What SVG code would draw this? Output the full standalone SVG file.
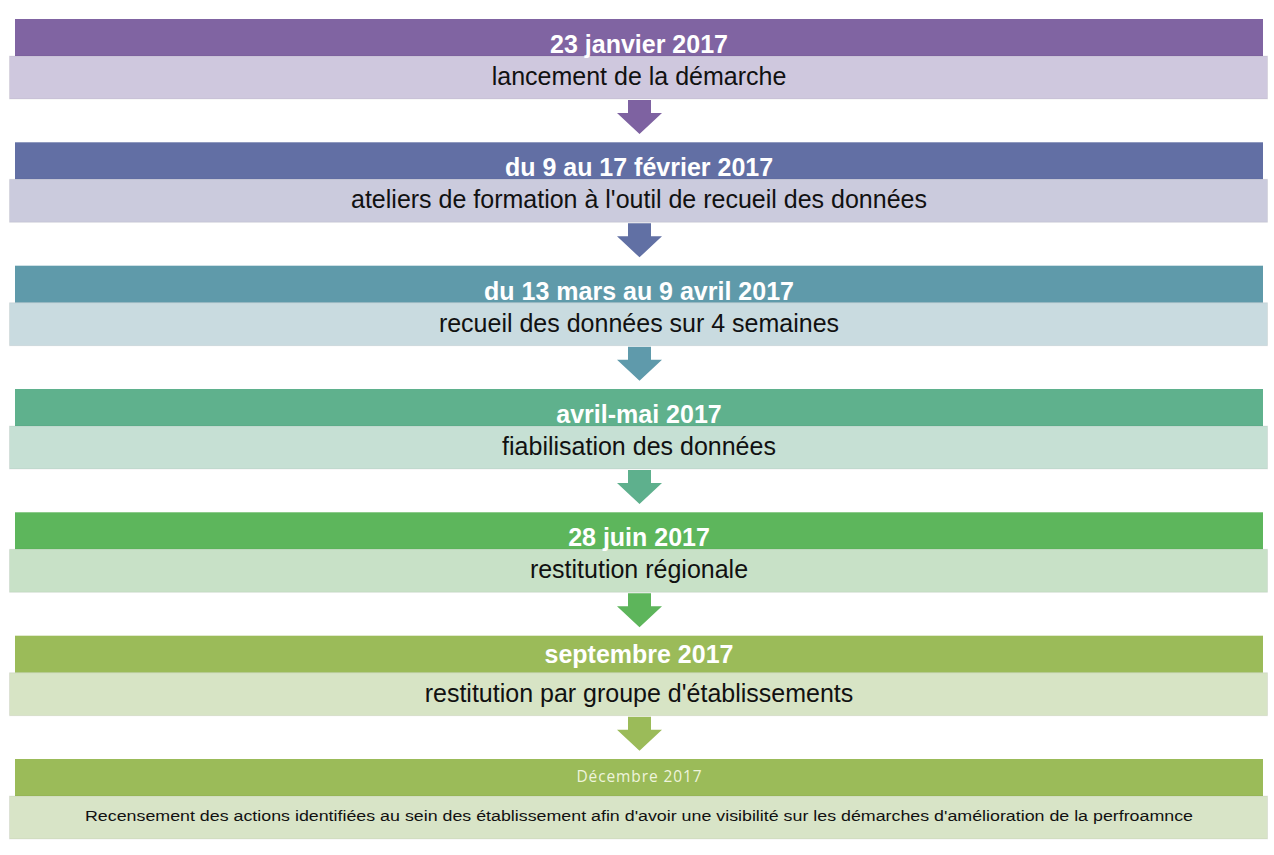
<svg xmlns="http://www.w3.org/2000/svg" width="1274" height="855" viewBox="0 0 1274 855">
<defs>
<style>
.hd{font-family:"Liberation Sans",Arial,sans-serif;font-size:25px;font-weight:bold;fill:#ffffff;text-anchor:middle}
.tx{font-family:"Liberation Sans",Arial,sans-serif;font-size:25px;fill:#111111;text-anchor:middle}
.hds{font-family:"Open Sans","Liberation Sans",sans-serif;font-size:15.5px;fill:#eef4dc;text-anchor:middle}
.txs{font-family:"Liberation Sans",Arial,sans-serif;font-size:15.5px;fill:#111111;text-anchor:middle}
.lt{stroke:#000000;stroke-opacity:0.06;stroke-width:1}
</style>
<path id="arr" d="M-11.5,0 H11.5 V13 H22.5 L0,34 L-22.5,13 H-11.5 Z"/>
</defs>
<rect width="1274" height="855" fill="#ffffff"/>

<g id="connectors">
<use href="#arr" x="639.5" y="100" fill="#7e62a1"/>
<use href="#arr" x="639.5" y="223.3" fill="#6170a4"/>
<use href="#arr" x="639.5" y="346.7" fill="#5f9aab"/>
<use href="#arr" x="639.5" y="470" fill="#5eb08d"/>
<use href="#arr" x="639.5" y="593.3" fill="#5db55b"/>
<use href="#arr" x="639.5" y="716.7" fill="#9bbb59"/>
</g>

<g id="step1">
<rect x="15" y="19" width="1248" height="37" fill="#8064a2"/>
<rect class="lt" x="9.5" y="56" width="1258" height="43" fill="#cfc8de"/>
<text class="hd" x="639" y="53">23 janvier 2017</text>
<text class="tx" x="639" y="85">lancement de la démarche</text>
</g>

<g id="step2">
<rect x="15" y="142.3" width="1248" height="37" fill="#626fa4"/>
<rect class="lt" x="9.5" y="179.3" width="1258" height="43" fill="#cbcbdd"/>
<text class="hd" x="639" y="176.3">du 9 au 17 février 2017</text>
<text class="tx" x="639" y="208.3">ateliers de formation à l'outil de recueil des données</text>
</g>

<g id="step3">
<rect x="15" y="265.7" width="1248" height="37" fill="#5f9aaa"/>
<rect class="lt" x="9.5" y="302.7" width="1258" height="43" fill="#c9dbe0"/>
<text class="hd" x="639" y="299.7">du 13 mars au 9 avril 2017</text>
<text class="tx" x="639" y="331.7">recueil des données sur 4 semaines</text>
</g>

<g id="step4">
<rect x="15" y="389" width="1248" height="37" fill="#5fb18d"/>
<rect class="lt" x="9.5" y="426" width="1258" height="43" fill="#c6e0d4"/>
<text class="hd" x="639" y="423">avril-mai 2017</text>
<text class="tx" x="639" y="455">fiabilisation des données</text>
</g>

<g id="step5">
<rect x="15" y="512.3" width="1248" height="37" fill="#5db65c"/>
<rect class="lt" x="9.5" y="549.3" width="1258" height="43" fill="#c8e1c7"/>
<text class="hd" x="639" y="546.3">28 juin 2017</text>
<text class="tx" x="639" y="578.3">restitution régionale</text>
</g>

<g id="step6">
<rect x="15" y="635.7" width="1248" height="37" fill="#9bbb59"/>
<rect class="lt" x="9.5" y="672.7" width="1258" height="43" fill="#d7e4c5"/>
<text class="hd" x="639" y="663">septembre 2017</text>
<text class="tx" x="639" y="701.7">restitution par groupe d'établissements</text>
</g>

<g id="step7">
<rect x="15" y="759" width="1248" height="37" fill="#9bbb59"/>
<rect class="lt" x="9.5" y="796" width="1258" height="43" fill="#d8e4c7"/>
<text class="hds" x="639" y="782" textLength="125" lengthAdjust="spacing">Décembre 2017</text>
<text class="txs" x="639" y="821" textLength="1108" lengthAdjust="spacingAndGlyphs">Recensement des actions identifiées au sein des établissement afin d'avoir une visibilité sur les démarches d'amélioration de la perfroamnce</text>
</g>
</svg>
